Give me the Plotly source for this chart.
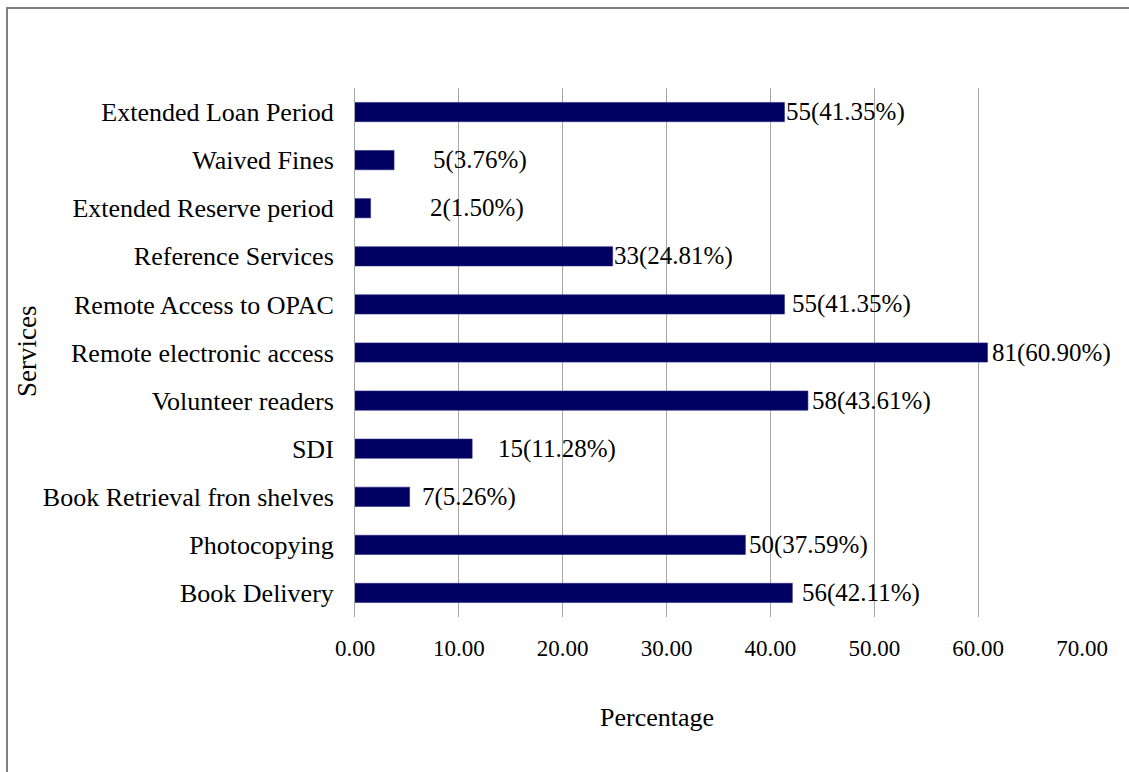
import plotly.graph_objects as go

# Library services offered (top to bottom)
services = [
    "Extended Loan Period",
    "Waived Fines",
    "Extended Reserve period",
    "Reference Services",
    "Remote Access to OPAC",
    "Remote electronic access",
    "Volunteer readers",
    "SDI",
    "Book Retrieval fron shelves",
    "Photocopying",
    "Book Delivery",
]
counts = [55, 5, 2, 33, 55, 81, 58, 15, 7, 50, 56]
percentages = [41.35, 3.76, 1.50, 24.81, 41.35, 60.90, 43.61, 11.28, 5.26, 37.59, 42.11]

x_ticks = [0, 10, 20, 30, 40, 50, 60, 70]
x_tick_text = [f"{v:.2f}" for v in x_ticks]

# horizontal nudge (px) of each value label from its bar end
label_shift = [1, 38, 58, 0, 7, 4, 3, 25, 11, 3, 9]

FONT = "Liberation Serif, Times New Roman, serif"
BAR = "#000062"
W, H = 1129, 772
L, R, T, B = 355, 47, 88, 155
PW, PH = W - L - R, H - T - B

fig = go.Figure(
    go.Bar(
        y=services,
        x=percentages,
        orientation="h",
        marker=dict(color=BAR, line=dict(color="#2a2a80", width=0.6)),
        width=0.4,
        hoverinfo="skip",
    )
)

for svc, c, p, dx in zip(services, counts, percentages, label_shift):
    fig.add_annotation(
        x=p, y=svc, xref="x", yref="y",
        text=f"{c}({p:.2f}%)",
        showarrow=False, xanchor="left", yanchor="middle",
        xshift=dx, borderpad=0,
        font=dict(family=FONT, size=25, color="black"),
    )

# axis titles
fig.add_annotation(
    x=(657 - L) / PW, y=-(717 - (T + PH)) / PH, xref="paper", yref="paper",
    text="Percentage", showarrow=False, xanchor="center", yanchor="middle",
    font=dict(family=FONT, size=26, color="black"),
)
fig.add_annotation(
    x=(27 - L) / PW, y=(T + PH - 352) / PH, xref="paper", yref="paper",
    text="Services", textangle=-90, showarrow=False,
    xanchor="center", yanchor="middle",
    font=dict(family=FONT, size=27, color="black"),
)

# outer chart border (runs past the right and bottom edges)
fig.add_shape(
    type="rect", xref="paper", yref="paper",
    x0=(7 - L) / PW, x1=(1160 - L) / PW,
    y0=(T + PH - 800) / PH, y1=(T + PH - 8) / PH,
    line=dict(color="#7f7f7f", width=2), fillcolor="rgba(0,0,0,0)", layer="below",
)

fig.update_layout(
    width=W, height=H,
    margin=dict(l=L, r=R, t=T, b=B, pad=0),
    paper_bgcolor="white", plot_bgcolor="white",
    showlegend=False,
    font=dict(family=FONT, color="black"),
)
fig.update_xaxes(
    range=[0, 70],
    tickvals=x_ticks, ticktext=x_tick_text,
    showgrid=True, gridcolor="#a6a6a6", gridwidth=1,
    zeroline=False, showline=False,
    ticks="", ticklabelstandoff=15,
    tickfont=dict(family=FONT, size=23, color="black"),
    fixedrange=True,
)
fig.update_yaxes(
    autorange="reversed",
    showgrid=False, zeroline=False,
    showline=True, linecolor="#a6a6a6", linewidth=1,
    ticks="", ticklabelstandoff=15,
    tickfont=dict(family=FONT, size=26, color="black"),
    fixedrange=True,
)

fig.write_html("out.html")
